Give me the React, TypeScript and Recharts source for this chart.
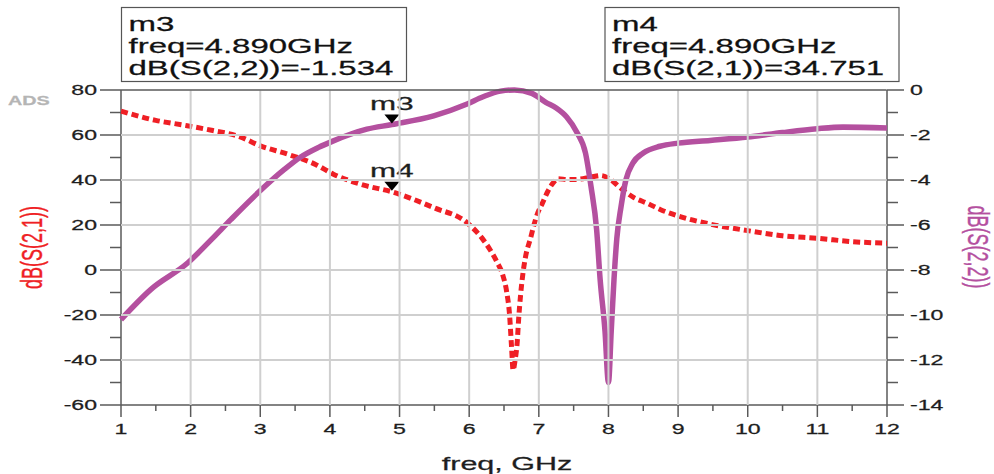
import React from "react";
import {
  ComposedChart, Line, XAxis, YAxis, ReferenceDot,
} from "recharts";

// dB(S(2,1)) — left axis
const s21Freq = [
  1, 1.5, 1.9, 2.3, 2.7, 3.0, 3.4, 3.8, 4.05, 4.5, 4.89, 5.5, 5.97, 6.2, 6.3, 6.4, 6.48,
  6.54, 6.58, 6.61, 6.63, 6.66, 6.69, 6.71, 6.74, 6.77, 6.81, 6.88, 6.93, 6.98, 7.05, 7.13,
  7.2, 7.28, 7.41, 7.56, 7.74, 7.89, 8.03, 8.17, 8.36, 8.56, 8.75, 9.0, 9.46, 10.0, 10.5,
  11.0, 11.5, 12.0,
];
const s21Db = [
  70.6, 66.5, 64.4, 62.1, 59.3, 55.2, 51.4, 46.8, 42.6, 37.6, 34.75, 27.6, 21, 13.5, 9, 3.5, -2,
  -10, -20, -35, -44.5, -40, -32, -22, -10.5, -2, 6, 14, 20, 25, 29.6, 35,
  38.5, 40.6, 40.2, 40.3, 41.2, 42, 40.2, 36.5, 32.3, 29.6, 26.8, 24, 20.4, 17.5, 15.2,
  14.1, 12.6, 11.9,
];

// dB(S(2,2)) — right axis
const s22Freq = [
  1, 1.43, 1.96, 2.3, 2.58, 2.97, 3.35, 3.57, 3.83, 4.05, 4.53, 4.89, 5.49, 5.97, 6.2, 6.45,
  6.65, 6.9, 7.1, 7.25, 7.4, 7.55, 7.67, 7.75, 7.83, 7.88, 7.95, 8.0, 8.04, 8.08, 8.12, 8.18,
  8.25, 8.35, 8.5, 8.74, 9.0, 9.46, 10.0, 10.5, 11.0, 11.37, 12.0,
];
const s22Db = [
  -10.2, -8.86, -7.68, -6.64, -5.75, -4.56, -3.52, -3.0, -2.56, -2.26, -1.74, -1.534, -1.15, -0.62, -0.3, -0.05,
  0, -0.15, -0.55, -0.8, -1.2, -1.9, -2.8, -4.3, -6.2, -8.4, -10.7, -13.0, -10.7, -8.4, -6.6, -5.2,
  -4.0, -3.25, -2.8, -2.5, -2.36, -2.24, -2.09, -1.89, -1.72, -1.65, -1.69,
];

const freqTicks = [1, 2, 3, 4, 5, 6, 7, 8, 9, 10, 11, 12];
const s21Ticks = [-60, -40, -20, 0, 20, 40, 60, 80];
const s22Ticks = [-14, -12, -10, -8, -6, -4, -2, 0];

const markerFreq = 4.89;
const m3Value = -1.534;
const m4Value = 34.751;

const SX = 1.65;
const FONT = '"Liberation Sans", Arial, Helvetica, sans-serif';
const RED = "#ef1f25";
const PURPLE = "#b4509f";
const AXIS = "#5a5a5a";
const GRID = "#cfcfcf";
const TEXT = "#1e1e1e";
const PLOT_W = 765.7;
const PLOT_H = 314.5;

const s21Data = s21Freq.map((f, i) => ({ f, v: s21Db[i] }));
const s22Data = s22Freq.map((f, i) => ({ f, v: s22Db[i] }));

function withHalves(t: number[]) {
  const out: number[] = [];
  t.forEach((v, i) => {
    out.push(v);
    if (i < t.length - 1) out.push((v + t[i + 1]) / 2);
  });
  return out;
}

function WideText({ x, y, anchor = "start", size, fill = TEXT, rotate, weight, children }: any) {
  return (
    <text
      transform={`translate(${x},${y}) scale(${SX},1)${rotate ? ` rotate(${rotate})` : ""}`}
      textAnchor={anchor}
      fontSize={size}
      fontFamily={FONT}
      fontWeight={weight}
      fill={fill}
      stroke={fill}
      strokeWidth={0.25}
      dominantBaseline={rotate ? "central" : undefined}
    >
      {children}
    </text>
  );
}

// grid lines come out of the axis ticks
const XTick = (p: any) => {
  const v = p.payload.value;
  const major = Number.isInteger(v);
  const inner = v > freqTicks[0] && v < freqTicks[freqTicks.length - 1];
  return (
    <g>
      {major && inner && <line x1={p.x} x2={p.x} y1={p.y - PLOT_H} y2={p.y} stroke={GRID} strokeWidth={2} />}
      <line x1={p.x} x2={p.x} y1={p.y} y2={p.y + (major ? 12 : 6)} stroke={AXIS} strokeWidth={1.5} />
      {major && <WideText x={p.x} y={p.y + 29} anchor="middle" size={14}>{v}</WideText>}
    </g>
  );
};

const LeftTick = (p: any) => {
  const v = p.payload.value;
  const major = v % 20 === 0;
  const top = v === s21Ticks[s21Ticks.length - 1];
  const inner = v > s21Ticks[0] && !top;
  return (
    <g>
      {major && inner && <line x1={p.x} x2={p.x + PLOT_W} y1={p.y} y2={p.y} stroke={GRID} strokeWidth={2} />}
      {top && <line x1={p.x} x2={p.x + PLOT_W} y1={p.y} y2={p.y} stroke={AXIS} strokeWidth={1.5} />}
      <line x1={p.x - (major ? 21 : 11)} x2={p.x} y1={p.y} y2={p.y} stroke={AXIS} strokeWidth={1.5} />
      {major && <WideText x={p.x - 24} y={p.y + 5} anchor="end" size={14}>{v}</WideText>}
    </g>
  );
};

const RightTick = (p: any) => {
  const v = p.payload.value;
  const major = v % 2 === 0;
  return (
    <g>
      <line x1={p.x} x2={p.x + (major ? 17 : 11)} y1={p.y} y2={p.y} stroke={AXIS} strokeWidth={1.5} />
      {major && <WideText x={p.x + 23} y={p.y + 5} size={14}>{v}</WideText>}
    </g>
  );
};

const markerShape = (name: string) => (p: any) => (
  <g>
    <path d={`M${p.cx - 7.5},${p.cy - 10} L${p.cx + 7.5},${p.cy - 10} L${p.cx},${p.cy - 1} Z`} fill="#000" />
    <WideText x={p.cx} y={p.cy - 15} anchor="middle" size={19}>{name}</WideText>
  </g>
);

function MarkerBox({ x, w, lines }: { x: number; w: number; lines: string[] }) {
  return (
    <g>
      <rect x={x} y={7.5} width={w} height={74} fill="#fff" stroke="#555" strokeWidth={1.2} />
      {lines.map((t, i) => (
        <WideText key={i} x={x + 7} y={31 + i * 22.2} size={20} fill="#111">{t}</WideText>
      ))}
    </g>
  );
}

export default function App() {
  return (
    <div style={{ position: "absolute", left: 0, top: 0, width: 994, height: 474, background: "#fff" }}>
      <ComposedChart width={994} height={474} margin={{ top: 90, right: 0, bottom: 0, left: 0 }}>
        <XAxis
          dataKey="f"
          type="number"
          domain={[1, 12]}
          ticks={withHalves(freqTicks)}
          interval={0}
          height={69}
          tickSize={0}
          tickMargin={0}
          tickLine={false}
          tick={<XTick />}
          axisLine={{ stroke: AXIS, strokeWidth: 1.5 }}
        />
        <YAxis
          yAxisId="left"
          type="number"
          domain={[-60, 80]}
          ticks={withHalves(s21Ticks)}
          interval={0}
          width={121}
          tickSize={0}
          tickMargin={0}
          tickLine={false}
          tick={<LeftTick />}
          axisLine={{ stroke: AXIS, strokeWidth: 1.5 }}
        />
        <YAxis
          yAxisId="right"
          orientation="right"
          type="number"
          domain={[-14, 0]}
          ticks={withHalves(s22Ticks)}
          interval={0}
          width={107}
          tickSize={0}
          tickMargin={0}
          tickLine={false}
          tick={<RightTick />}
          axisLine={{ stroke: AXIS, strokeWidth: 1.5 }}
        />
        <Line
          yAxisId="left"
          data={s21Data}
          dataKey="v"
          type="monotone"
          stroke={RED}
          strokeWidth={5}
          strokeDasharray="7 4"
          dot={false}
          activeDot={false}
          isAnimationActive={false}
          zIndex={600}
        />
        <Line
          yAxisId="right"
          data={s22Data}
          dataKey="v"
          type="monotone"
          stroke={PURPLE}
          strokeWidth={5.5}
          dot={false}
          activeDot={false}
          isAnimationActive={false}
          zIndex={600}
        />
        <ReferenceDot yAxisId="right" x={markerFreq} y={m3Value} shape={markerShape("m3")} />
        <ReferenceDot yAxisId="left" x={markerFreq} y={m4Value} shape={markerShape("m4")} />
      </ComposedChart>
      <svg width={994} height={474} style={{ position: "absolute", left: 0, top: 0, pointerEvents: "none" }}>
        <MarkerBox x={121.5} w={285} lines={["m3", `freq=${markerFreq.toFixed(3)}GHz`, `dB(S(2,2))=${m3Value.toFixed(3)}`]} />
        <MarkerBox x={605} w={294} lines={["m4", `freq=${markerFreq.toFixed(3)}GHz`, `dB(S(2,1))=${m4Value.toFixed(3)}`]} />
        <WideText x={8} y={105} size={12} weight="bold" fill="#b5b5b5">ADS</WideText>
        <WideText x={31.5} y={247.5} size={18} fill={RED} rotate={-90} anchor="middle">dB(S(2,1))</WideText>
        <WideText x={978} y={247} size={18} fill={PURPLE} rotate={90} anchor="middle">dB(S(2,2))</WideText>
        <WideText x={507} y={470} size={18.5} anchor="middle">freq, GHz</WideText>
      </svg>
    </div>
  );
}
